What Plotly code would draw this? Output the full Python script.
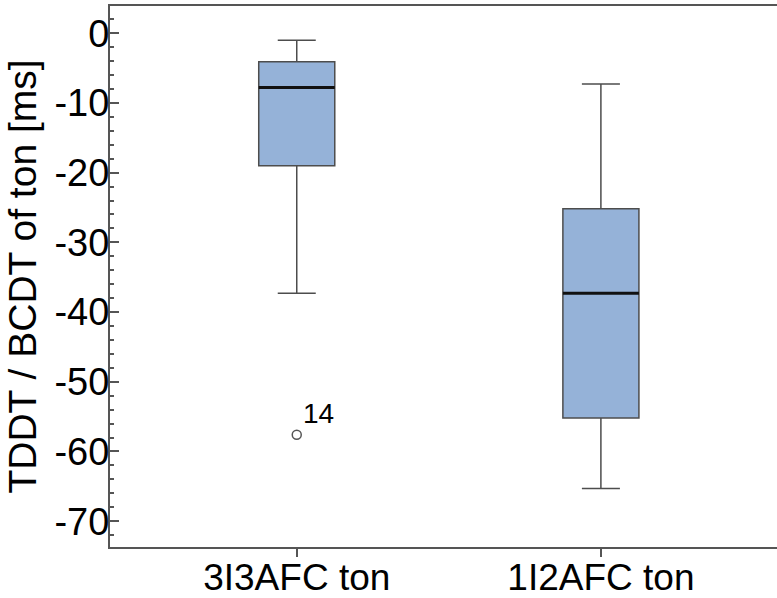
import plotly.graph_objects as go

# ---- data ----
categories = ["3I3AFC ton", "1I2AFC ton"]
positions = [0, 1]
upper_whisker = [-1.0, -7.3]
q3 = [-4.1, -25.2]
median = [-7.8, -37.3]
q1 = [-19.0, -55.2]
lower_whisker = [-37.3, -65.3]
outlier_pos = [0]
outlier_val = [-57.6]
outlier_lab = ["14"]
y_tickvals = [0, -10, -20, -30, -40, -50, -60, -70]
y_ticktext = ["0", "-10", "-20", "-30", "-40", "-50", "-60", "-70"]

FONT = "Liberation Sans, Arial, Helvetica, sans-serif"
BOX_W = 0.25
FILL = "#95b2d8"
EDGE = "#4d4d4d"
AXIS = "#555555"

fig = go.Figure()
for i, cat in enumerate(categories):
    fig.add_trace(go.Box(
        x=[positions[i]], q1=[q1[i]], median=[median[i]], q3=[q3[i]],
        lowerfence=[lower_whisker[i]], upperfence=[upper_whisker[i]],
        width=BOX_W, whiskerwidth=0.5, fillcolor=FILL,
        line=dict(color=EDGE, width=1.5), boxpoints=False,
        showlegend=False, hoverinfo="skip", name=cat,
    ))
    # darker median line overlay
    fig.add_trace(go.Scatter(
        x=[positions[i] - BOX_W / 2, positions[i] + BOX_W / 2],
        y=[median[i], median[i]], mode="lines",
        line=dict(color="#111111", width=3), showlegend=False, hoverinfo="skip",
    ))

fig.add_trace(go.Scatter(
    x=outlier_pos, y=outlier_val, mode="markers",
    marker=dict(symbol="circle-open", size=9, color="#555555", line=dict(width=1.5)),
    showlegend=False, hoverinfo="skip",
))
for xp, yv, lab in zip(outlier_pos, outlier_val, outlier_lab):
    fig.add_annotation(x=xp, y=yv, text=lab, showarrow=False,
                       xanchor="left", yanchor="middle", xshift=4, yshift=21,
                       font=dict(family=FONT, size=28, color="black"))

fig.update_layout(
    width=777, height=598,
    margin=dict(l=110, r=0, t=6, b=51),
    paper_bgcolor="white", plot_bgcolor="white",
    font=dict(family=FONT, color="black"),
    xaxis=dict(
        range=[-0.614, 1.579], tickvals=positions, ticktext=categories,
        showline=True, linecolor=AXIS, linewidth=2, mirror=True,
        ticks="outside", ticklen=8, tickcolor=AXIS, tickwidth=2,
        ticklabelstandoff=-11,
        tickfont=dict(family=FONT, size=37, color="black"),
        showgrid=False, zeroline=False, automargin=False,
    ),
    yaxis=dict(
        range=[-73.7, 3.9], tickvals=y_tickvals, ticktext=y_ticktext,
        showline=True, linecolor=AXIS, linewidth=2,
        ticks="inside", ticklen=9, tickcolor=AXIS, tickwidth=2,
        ticklabelstandoff=-9,
        minor=dict(dtick=2, ticks="inside", ticklen=4, tickcolor=AXIS, tickwidth=1.5),
        tickfont=dict(family=FONT, size=38, color="black"),
        title=dict(text="TDDT / BCDT of ton [ms]", font=dict(family=FONT, size=39, color="black"), standoff=6),
        showgrid=False, zeroline=False, automargin=False,
    ),
)

fig.write_html("out.html")
